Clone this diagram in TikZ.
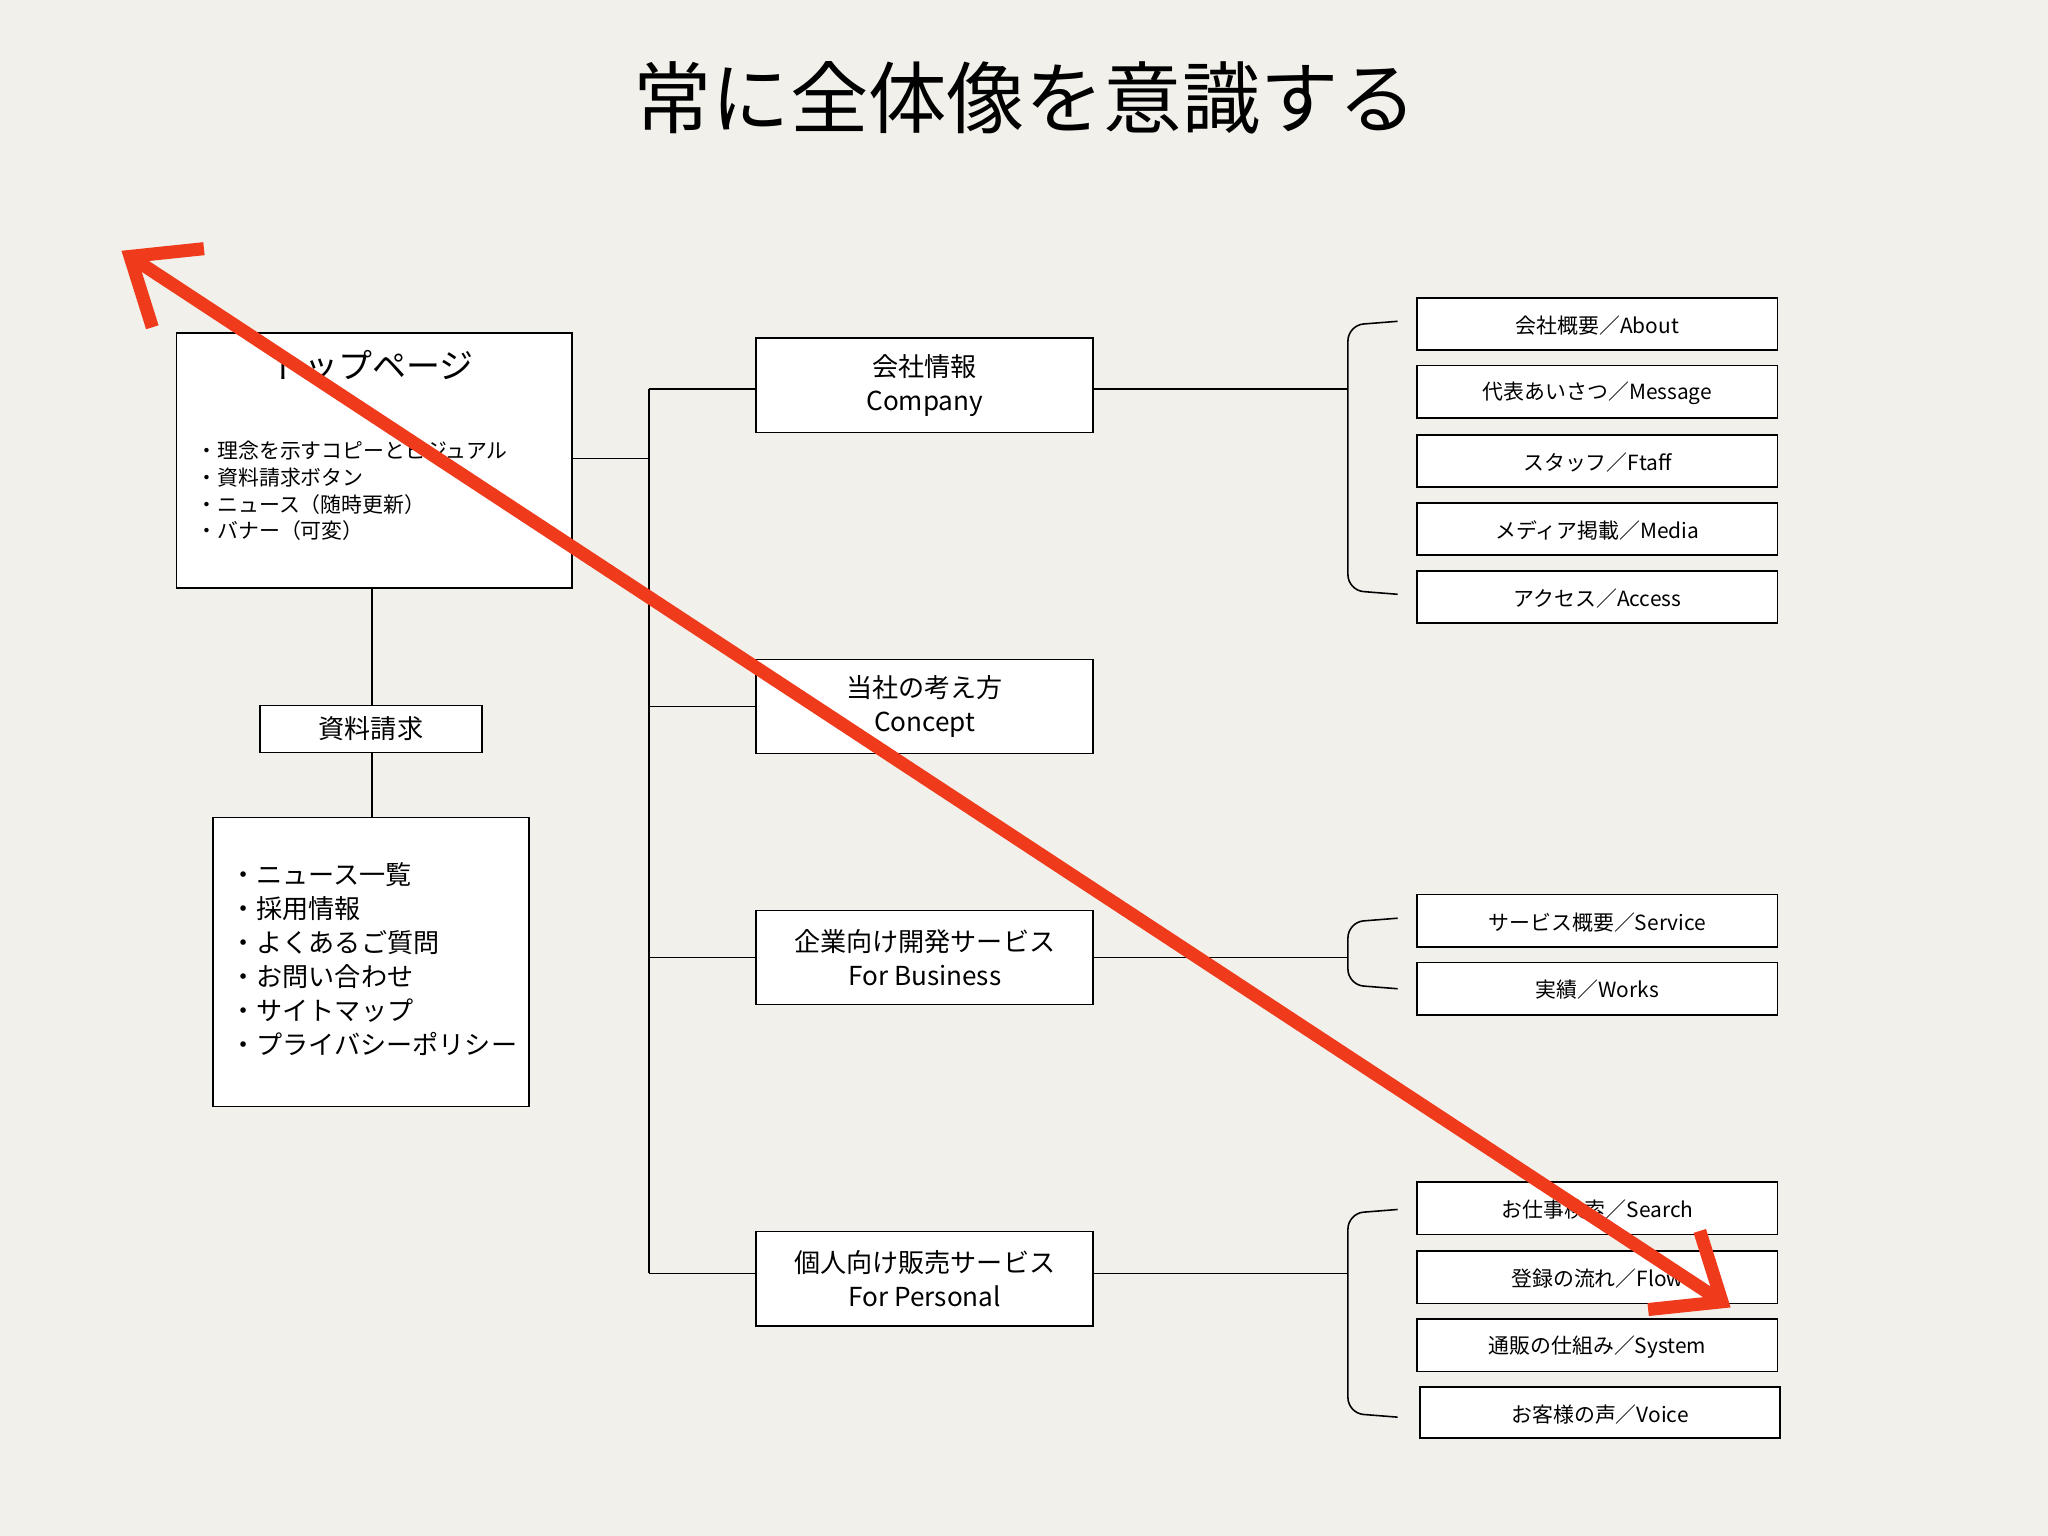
\documentclass[tikz,border=0pt]{standalone}
\usepackage{fontspec}
\setmainfont{Noto Sans CJK JP}
\usetikzlibrary{arrows.meta}
\definecolor{bg}{HTML}{F2F0EA}
\definecolor{redarrow}{HTML}{F03A1C}
\begin{document}
\begin{tikzpicture}[x=0.5pt,y=-0.5pt,
  box/.style={draw=black,line width=0.6pt,fill=white,inner sep=0pt},
  ln/.style={line width=0.6pt},
  mid/.style={font=\fontsize{10}{13}\selectfont,align=center},
  sm/.style={font=\fontsize{8}{10}\selectfont}]
\fill[bg] (0,0) rectangle (1568,1176);
\useasboundingbox (0,0) rectangle (1568,1176);
\node[font=\fontsize{30}{34}\selectfont] (title) at (785,75) {常に全体像を意識する};
% top page
\draw[box] (135,255) rectangle (438,450);
\coordinate (topR) at (438,351);
\node[font=\fontsize{13}{16}\selectfont] (toptitle) at (285,280) {トップページ};
\node[anchor=north west,align=left,font=\fontsize{8}{10.3}\selectfont,inner sep=0pt] (toplist) at (150,337) {・理念を示すコピーとビジュアル\\・資料請求ボタン\\・ニュース（随時更新）\\・バナー（可変）};
\draw[box] (199,540) rectangle (369,576);
\node[mid] (req) at (284,558) {資料請求};
\draw[box] (163,626) rectangle (405,847);
\node[anchor=north west,align=left,font=\fontsize{10}{13}\selectfont,inner sep=0pt] (sublist) at (176,660) {・ニュース一覧\\・採用情報\\・よくあるご質問\\・お問い合わせ\\・サイトマップ\\・プライバシーポリシー};
\draw[ln] (285,450) -- (285,540);
\draw[ln] (285,576) -- (285,626);
% trunk
\draw[ln] (topR) -- (497,351);
\draw[ln] (497,298) -- (497,975);
\foreach \y in {298,541,733,975} \draw[ln] (497,\y) -- (579,\y);
% middle boxes
\foreach \ya/\yb in {259/331,505/577,697/769,943/1015} \draw[box] (579,\ya) rectangle (837,\yb);
\node[mid] (company) at (708,295) {会社情報\\Company};
\node[mid] (concept) at (708,541) {当社の考え方\\Concept};
\node[mid] (business) at (708,733) {企業向け開発サービス\\For Business};
\node[mid] (personal) at (708,979) {個人向け販売サービス\\For Personal};
\foreach \y in {298,733,975} \draw[ln] (837,\y) -- (1032,\y);
% brackets
\foreach \ya/\yb in {246/455,703/757,926/1085}
  \draw[ln,rounded corners=6pt] (1070,\ya) -- (1032,\ya+3) -- (1032,\yb-3) -- (1070,\yb);
% right boxes
\foreach \ya/\t [count=\i] in {228/会社概要／About,280/代表あいさつ／Message,333/スタッフ／Ftaff,385/メディア掲載／Media,437/アクセス／Access,685/サービス概要／Service,737/実績／Works,905/お仕事検索／Search,958/登録の流れ／Flow,1010/通販の仕組み／System}{
  \draw[box] (1085,\ya) rectangle (1361,\ya+40);
  \node[sm] (r\i) at (1223,\ya+21) {\t};}
\draw[box] (1087,1062) rectangle (1363,1101);
\node[sm] (voice) at (1225,1083) {お客様の声／Voice};
% red arrow
\coordinate (ra) at (93,192);
\coordinate (rb) at (1325,1001);
\draw[redarrow,line width=5pt,line cap=round,
  {Straight Barb[length=22pt,width=36pt,line width=5pt]}-{Straight Barb[length=22pt,width=36pt,line width=5pt]}] (ra) -- (rb);
\end{tikzpicture}
\end{document}
